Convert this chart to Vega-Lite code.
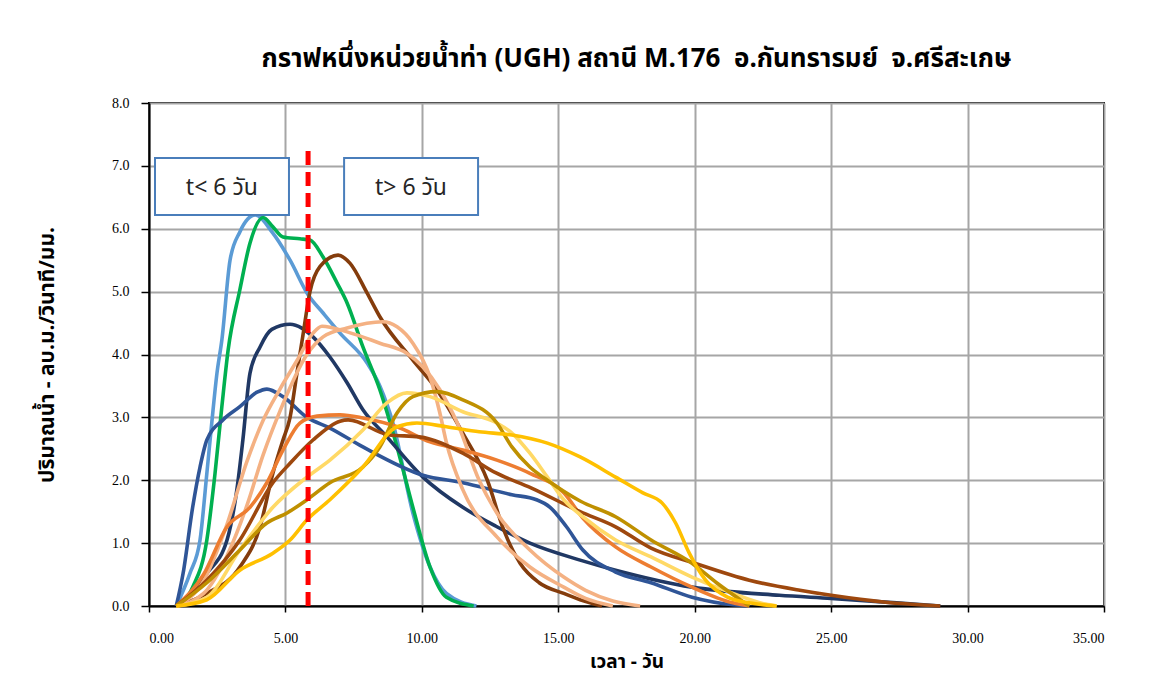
{
  "$schema": "https://vega.github.io/schema/vega-lite/v6.json",
  "width": 955,
  "height": 503,
  "autosize": "none",
  "padding": {"left": 149, "top": 103, "right": 48, "bottom": 84},
  "background": "white",
  "title": {
    "text": "กราฟหนึ่งหน่วยน้ำท่า (UGH) สถานี M.176 \u00a0อ.กันทรารมย์ \u00a0จ.ศรีสะเกษ",
    "font": "Tahoma, Noto Sans Thai, Loma, sans-serif",
    "fontSize": 26,
    "fontWeight": "bold",
    "color": "black",
    "anchor": "middle",
    "dx": 10,
    "offset": 24
  },
  "datasets": {
    "curves": [
      {"s": "A", "x": 1, "y": 0}, {"s": "A", "x": 1.5, "y": 0.52}, {"s": "A", "x": 1.87, "y": 1.05}, {"s": "A", "x": 2.12, "y": 2.11}, {"s": "A", "x": 2.3, "y": 2.91}, {"s": "A", "x": 2.49, "y": 3.7}, {"s": "A", "x": 2.67, "y": 4.23}, {"s": "A", "x": 2.97, "y": 5.5}, {"s": "A", "x": 3.33, "y": 5.95}, {"s": "A", "x": 3.9, "y": 6.22}, {"s": "A", "x": 4.54, "y": 5.93}, {"s": "A", "x": 5.17, "y": 5.5}, {"s": "A", "x": 5.83, "y": 4.95}, {"s": "A", "x": 6.38, "y": 4.66}, {"s": "A", "x": 7.0, "y": 4.34}, {"s": "A", "x": 8.0, "y": 3.86}, {"s": "A", "x": 8.46, "y": 3.5}, {"s": "A", "x": 8.94, "y": 2.91}, {"s": "A", "x": 9.67, "y": 1.48}, {"s": "A", "x": 10.3, "y": 0.62}, {"s": "A", "x": 10.9, "y": 0.2}, {"s": "A", "x": 12, "y": 0},
      {"s": "B", "x": 1, "y": 0}, {"s": "B", "x": 1.6, "y": 0.3}, {"s": "B", "x": 2.12, "y": 1.05}, {"s": "B", "x": 2.42, "y": 2.11}, {"s": "B", "x": 2.67, "y": 3.17}, {"s": "B", "x": 2.9, "y": 4.07}, {"s": "B", "x": 3.33, "y": 5.03}, {"s": "B", "x": 3.7, "y": 5.77}, {"s": "B", "x": 4.18, "y": 6.18}, {"s": "B", "x": 4.54, "y": 6.03}, {"s": "B", "x": 4.91, "y": 5.87}, {"s": "B", "x": 5.53, "y": 5.84}, {"s": "B", "x": 5.9, "y": 5.82}, {"s": "B", "x": 6.38, "y": 5.55}, {"s": "B", "x": 6.89, "y": 5.14}, {"s": "B", "x": 7.26, "y": 4.82}, {"s": "B", "x": 7.84, "y": 4.12}, {"s": "B", "x": 8.46, "y": 3.44}, {"s": "B", "x": 9.09, "y": 2.53}, {"s": "B", "x": 9.67, "y": 1.57}, {"s": "B", "x": 10.3, "y": 0.62}, {"s": "B", "x": 10.9, "y": 0.14}, {"s": "B", "x": 11.9, "y": 0},
      {"s": "C", "x": 1, "y": 0}, {"s": "C", "x": 1.5, "y": 0.2}, {"s": "C", "x": 2.12, "y": 0.52}, {"s": "C", "x": 2.86, "y": 1.05}, {"s": "C", "x": 3.22, "y": 1.85}, {"s": "C", "x": 3.44, "y": 2.64}, {"s": "C", "x": 3.7, "y": 3.7}, {"s": "C", "x": 4.07, "y": 4.12}, {"s": "C", "x": 4.5, "y": 4.4}, {"s": "C", "x": 5.17, "y": 4.48}, {"s": "C", "x": 5.6, "y": 4.42}, {"s": "C", "x": 6.01, "y": 4.28}, {"s": "C", "x": 6.63, "y": 3.96}, {"s": "C", "x": 7.26, "y": 3.55}, {"s": "C", "x": 7.84, "y": 3.12}, {"s": "C", "x": 8.72, "y": 2.69}, {"s": "C", "x": 10.04, "y": 2.05}, {"s": "C", "x": 11.5, "y": 1.57}, {"s": "C", "x": 12.75, "y": 1.26}, {"s": "C", "x": 13.96, "y": 1.0}, {"s": "C", "x": 15.8, "y": 0.73}, {"s": "C", "x": 17.1, "y": 0.57}, {"s": "C", "x": 19.9, "y": 0.3}, {"s": "C", "x": 23.1, "y": 0.17}, {"s": "C", "x": 25, "y": 0.12}, {"s": "C", "x": 27.4, "y": 0.05}, {"s": "C", "x": 29, "y": 0},
      {"s": "D", "x": 1, "y": 0}, {"s": "D", "x": 1.25, "y": 0.52}, {"s": "D", "x": 1.6, "y": 1.57}, {"s": "D", "x": 1.87, "y": 2.21}, {"s": "D", "x": 2.12, "y": 2.64}, {"s": "D", "x": 2.71, "y": 2.96}, {"s": "D", "x": 3.33, "y": 3.17}, {"s": "D", "x": 3.96, "y": 3.4}, {"s": "D", "x": 4.32, "y": 3.45}, {"s": "D", "x": 4.91, "y": 3.33}, {"s": "D", "x": 5.79, "y": 3.0}, {"s": "D", "x": 6.63, "y": 2.83}, {"s": "D", "x": 7.84, "y": 2.53}, {"s": "D", "x": 10.04, "y": 2.08}, {"s": "D", "x": 11.5, "y": 1.96}, {"s": "D", "x": 13.3, "y": 1.77}, {"s": "D", "x": 14.2, "y": 1.69}, {"s": "D", "x": 14.7, "y": 1.57}, {"s": "D", "x": 15.3, "y": 1.26}, {"s": "D", "x": 15.9, "y": 0.89}, {"s": "D", "x": 17.1, "y": 0.54}, {"s": "D", "x": 18.4, "y": 0.37}, {"s": "D", "x": 19.9, "y": 0.14}, {"s": "D", "x": 21.4, "y": 0.02}, {"s": "D", "x": 22, "y": 0},
      {"s": "E", "x": 1, "y": 0}, {"s": "E", "x": 2.12, "y": 0.2}, {"s": "E", "x": 3.33, "y": 0.62}, {"s": "E", "x": 4.07, "y": 1.26}, {"s": "E", "x": 4.54, "y": 2.11}, {"s": "E", "x": 4.91, "y": 2.64}, {"s": "E", "x": 5.17, "y": 3.0}, {"s": "E", "x": 5.42, "y": 3.7}, {"s": "E", "x": 5.64, "y": 4.3}, {"s": "E", "x": 5.9, "y": 5.0}, {"s": "E", "x": 6.27, "y": 5.4}, {"s": "E", "x": 6.93, "y": 5.58}, {"s": "E", "x": 7.37, "y": 5.45}, {"s": "E", "x": 7.99, "y": 4.98}, {"s": "E", "x": 8.46, "y": 4.6}, {"s": "E", "x": 9.67, "y": 3.91}, {"s": "E", "x": 10.55, "y": 3.44}, {"s": "E", "x": 11.5, "y": 2.75}, {"s": "E", "x": 12.4, "y": 2.0}, {"s": "E", "x": 13.0, "y": 1.21}, {"s": "E", "x": 13.6, "y": 0.68}, {"s": "E", "x": 14.3, "y": 0.37}, {"s": "E", "x": 15.2, "y": 0.2}, {"s": "E", "x": 15.8, "y": 0.1}, {"s": "E", "x": 16.6, "y": 0},
      {"s": "F", "x": 1, "y": 0}, {"s": "F", "x": 2.0, "y": 0.4}, {"s": "F", "x": 2.86, "y": 1.3}, {"s": "F", "x": 3.59, "y": 2.3}, {"s": "F", "x": 4.18, "y": 2.95}, {"s": "F", "x": 4.8, "y": 3.45}, {"s": "F", "x": 5.42, "y": 3.9}, {"s": "F", "x": 6.01, "y": 4.34}, {"s": "F", "x": 6.34, "y": 4.45}, {"s": "F", "x": 7.26, "y": 4.36}, {"s": "F", "x": 8.46, "y": 4.18}, {"s": "F", "x": 9.45, "y": 4.02}, {"s": "F", "x": 10.04, "y": 3.8}, {"s": "F", "x": 10.66, "y": 3.44}, {"s": "F", "x": 11.3, "y": 2.91}, {"s": "F", "x": 12.1, "y": 2.0}, {"s": "F", "x": 12.75, "y": 1.48}, {"s": "F", "x": 13.96, "y": 0.89}, {"s": "F", "x": 15.2, "y": 0.46}, {"s": "F", "x": 16, "y": 0.25}, {"s": "F", "x": 17, "y": 0.08}, {"s": "F", "x": 18, "y": 0},
      {"s": "G", "x": 1, "y": 0}, {"s": "G", "x": 2.0, "y": 0.2}, {"s": "G", "x": 2.86, "y": 0.8}, {"s": "G", "x": 3.59, "y": 1.6}, {"s": "G", "x": 4.18, "y": 2.4}, {"s": "G", "x": 4.8, "y": 3.1}, {"s": "G", "x": 5.79, "y": 4.0}, {"s": "G", "x": 6.38, "y": 4.28}, {"s": "G", "x": 7.26, "y": 4.42}, {"s": "G", "x": 8.57, "y": 4.52}, {"s": "G", "x": 9.09, "y": 4.44}, {"s": "G", "x": 9.67, "y": 4.18}, {"s": "G", "x": 10.3, "y": 3.64}, {"s": "G", "x": 10.66, "y": 3.07}, {"s": "G", "x": 10.9, "y": 2.6}, {"s": "G", "x": 11.5, "y": 1.85}, {"s": "G", "x": 12.75, "y": 1.1}, {"s": "G", "x": 13.96, "y": 0.62}, {"s": "G", "x": 15.2, "y": 0.3}, {"s": "G", "x": 16, "y": 0.12}, {"s": "G", "x": 17, "y": 0},
      {"s": "H", "x": 1, "y": 0}, {"s": "H", "x": 2.0, "y": 0.5}, {"s": "H", "x": 2.86, "y": 1.26}, {"s": "H", "x": 3.7, "y": 1.57}, {"s": "H", "x": 4.32, "y": 1.96}, {"s": "H", "x": 4.91, "y": 2.48}, {"s": "H", "x": 5.53, "y": 2.91}, {"s": "H", "x": 6.16, "y": 3.02}, {"s": "H", "x": 7.0, "y": 3.04}, {"s": "H", "x": 7.84, "y": 2.99}, {"s": "H", "x": 9.09, "y": 2.85}, {"s": "H", "x": 10.3, "y": 2.61}, {"s": "H", "x": 11.5, "y": 2.48}, {"s": "H", "x": 12.75, "y": 2.32}, {"s": "H", "x": 13.96, "y": 2.11}, {"s": "H", "x": 15.2, "y": 1.8}, {"s": "H", "x": 15.9, "y": 1.4}, {"s": "H", "x": 17.1, "y": 0.94}, {"s": "H", "x": 18.4, "y": 0.62}, {"s": "H", "x": 19.9, "y": 0.3}, {"s": "H", "x": 21.4, "y": 0.05}, {"s": "H", "x": 22, "y": 0},
      {"s": "I", "x": 1, "y": 0}, {"s": "I", "x": 2.12, "y": 0.41}, {"s": "I", "x": 3.33, "y": 1.05}, {"s": "I", "x": 4.54, "y": 1.96}, {"s": "I", "x": 5.17, "y": 2.27}, {"s": "I", "x": 6.01, "y": 2.64}, {"s": "I", "x": 7.0, "y": 2.94}, {"s": "I", "x": 7.3, "y": 2.96}, {"s": "I", "x": 8.8, "y": 2.72}, {"s": "I", "x": 9.9, "y": 2.69}, {"s": "I", "x": 11.5, "y": 2.43}, {"s": "I", "x": 12.7, "y": 2.12}, {"s": "I", "x": 14, "y": 1.88}, {"s": "I", "x": 15.8, "y": 1.5}, {"s": "I", "x": 17.1, "y": 1.26}, {"s": "I", "x": 18.4, "y": 0.92}, {"s": "I", "x": 20, "y": 0.68}, {"s": "I", "x": 22, "y": 0.41}, {"s": "I", "x": 23.85, "y": 0.25}, {"s": "I", "x": 25, "y": 0.17}, {"s": "I", "x": 27, "y": 0.06}, {"s": "I", "x": 29, "y": 0},
      {"s": "J", "x": 1, "y": 0}, {"s": "J", "x": 2.12, "y": 0.14}, {"s": "J", "x": 3.33, "y": 0.89}, {"s": "J", "x": 4.54, "y": 1.57}, {"s": "J", "x": 5.79, "y": 2.05}, {"s": "J", "x": 6.63, "y": 2.32}, {"s": "J", "x": 7.84, "y": 2.8}, {"s": "J", "x": 8.72, "y": 3.23}, {"s": "J", "x": 9.45, "y": 3.39}, {"s": "J", "x": 10.3, "y": 3.33}, {"s": "J", "x": 11.5, "y": 3.09}, {"s": "J", "x": 12.75, "y": 2.91}, {"s": "J", "x": 13.3, "y": 2.75}, {"s": "J", "x": 13.96, "y": 2.43}, {"s": "J", "x": 14.6, "y": 2.05}, {"s": "J", "x": 15.2, "y": 1.69}, {"s": "J", "x": 15.9, "y": 1.42}, {"s": "J", "x": 17.1, "y": 1.05}, {"s": "J", "x": 18.4, "y": 0.78}, {"s": "J", "x": 19.9, "y": 0.46}, {"s": "J", "x": 21.4, "y": 0.2}, {"s": "J", "x": 22.6, "y": 0.03}, {"s": "J", "x": 23, "y": 0},
      {"s": "K", "x": 1, "y": 0}, {"s": "K", "x": 2.12, "y": 0.37}, {"s": "K", "x": 3.33, "y": 0.89}, {"s": "K", "x": 4.32, "y": 1.32}, {"s": "K", "x": 5.06, "y": 1.48}, {"s": "K", "x": 5.79, "y": 1.69}, {"s": "K", "x": 6.63, "y": 1.96}, {"s": "K", "x": 7.84, "y": 2.21}, {"s": "K", "x": 8.46, "y": 2.53}, {"s": "K", "x": 9.09, "y": 3.07}, {"s": "K", "x": 9.67, "y": 3.33}, {"s": "K", "x": 10.55, "y": 3.41}, {"s": "K", "x": 11.5, "y": 3.28}, {"s": "K", "x": 12.75, "y": 2.91}, {"s": "K", "x": 13.3, "y": 2.53}, {"s": "K", "x": 13.96, "y": 2.21}, {"s": "K", "x": 14.6, "y": 2.0}, {"s": "K", "x": 15.8, "y": 1.67}, {"s": "K", "x": 17.1, "y": 1.42}, {"s": "K", "x": 18.4, "y": 1.05}, {"s": "K", "x": 19.9, "y": 0.68}, {"s": "K", "x": 20.8, "y": 0.37}, {"s": "K", "x": 22, "y": 0},
      {"s": "L", "x": 1, "y": 0}, {"s": "L", "x": 2.12, "y": 0.1}, {"s": "L", "x": 3.33, "y": 0.57}, {"s": "L", "x": 4.54, "y": 0.84}, {"s": "L", "x": 5.17, "y": 1.05}, {"s": "L", "x": 5.79, "y": 1.37}, {"s": "L", "x": 6.63, "y": 1.69}, {"s": "L", "x": 7.84, "y": 2.21}, {"s": "L", "x": 9.09, "y": 2.85}, {"s": "L", "x": 9.82, "y": 2.91}, {"s": "L", "x": 10.9, "y": 2.85}, {"s": "L", "x": 12.1, "y": 2.77}, {"s": "L", "x": 13.3, "y": 2.72}, {"s": "L", "x": 14.6, "y": 2.59}, {"s": "L", "x": 15.8, "y": 2.37}, {"s": "L", "x": 17.1, "y": 2.05}, {"s": "L", "x": 18.1, "y": 1.8}, {"s": "L", "x": 18.8, "y": 1.64}, {"s": "L", "x": 19.3, "y": 1.32}, {"s": "L", "x": 19.8, "y": 0.84}, {"s": "L", "x": 20.4, "y": 0.41}, {"s": "L", "x": 21.2, "y": 0.14}, {"s": "L", "x": 22, "y": 0.05}, {"s": "L", "x": 23, "y": 0}
    ],
    "boxes": [
      {"x": 0.22, "x2": 5.13, "y": 6.22, "y2": 7.125},
      {"x": 7.15, "x2": 12.06, "y": 6.22, "y2": 7.125}
    ],
    "labels": [
      {"x": 2.67, "y": 6.65, "label": "t< 6 วัน"},
      {"x": 9.6, "y": 6.65, "label": "t> 6 วัน"}
    ],
    "divider": [
      {"x": 5.83, "y": 0, "y2": 7.33}
    ]
  },
  "layer": [
    {
      "data": {"name": "curves"},
      "mark": {"type": "line", "interpolate": "monotone", "strokeWidth": 3.6},
      "encoding": {
        "x": {
          "field": "x", "type": "quantitative",
          "scale": {"domain": [0, 35], "nice": false, "zero": false},
          "axis": {
            "values": [0, 5, 10, 15, 20, 25, 30, 35],
            "format": ".2f",
            "title": "เวลา - วัน",
            "titleFont": "Tahoma, Noto Sans Thai, Loma, sans-serif",
            "titleFontSize": 19,
            "titleFontWeight": "bold",
            "titleColor": "black",
            "titlePadding": 7,
            "labelFont": "Liberation Serif",
            "labelFontSize": 14,
            "labelColor": "black",
            "labelPadding": 19,
            "tickSize": 6,
            "tickColor": "black",
            "tickWidth": 1.5,
            "domainColor": "black",
            "domainWidth": 2,
            "grid": true,
            "gridColor": "#A6A6A6",
            "gridWidth": 2
          }
        },
        "y": {
          "field": "y", "type": "quantitative",
          "scale": {"domain": [0, 8], "nice": false},
          "axis": {
            "values": [0, 1, 2, 3, 4, 5, 6, 7, 8],
            "format": ".1f",
            "title": "ปริมาณน้ำ - ลบ.ม./วินาที/มม.",
            "titleFont": "Tahoma, Noto Sans Thai, Loma, sans-serif",
            "titleFontSize": 21,
            "titleFontWeight": "bold",
            "titleColor": "black",
            "titlePadding": 54,
            "labelFont": "Liberation Serif",
            "labelFontSize": 14,
            "labelColor": "black",
            "labelPadding": 12,
            "tickSize": 8,
            "tickColor": "black",
            "tickWidth": 1.5,
            "domainColor": "black",
            "domainWidth": 2,
            "grid": true,
            "gridColor": "#A6A6A6",
            "gridWidth": 2
          }
        },
        "color": {
          "field": "s", "type": "nominal",
          "scale": {
            "domain": ["A", "B", "C", "D", "E", "F", "G", "H", "I", "J", "K", "L"],
            "range": ["#5B9BD5", "#00B050", "#203864", "#2F5597", "#843C0C", "#F4B183", "#F4B183", "#ED7D31", "#9E480E", "#FFD966", "#BF9000", "#FFC000"]
          },
          "legend": null
        }
      }
    },
    {
      "data": {"name": "boxes"},
      "mark": {"type": "rect", "fill": "white", "stroke": "#4A7EBB", "strokeWidth": 2},
      "encoding": {
        "x": {"field": "x", "type": "quantitative"},
        "x2": {"field": "x2"},
        "y": {"field": "y", "type": "quantitative"},
        "y2": {"field": "y2"}
      }
    },
    {
      "data": {"name": "labels"},
      "mark": {"type": "text", "font": "Tahoma, Noto Sans Thai, Loma, sans-serif", "fontSize": 23, "color": "#262626", "align": "center", "baseline": "middle"},
      "encoding": {
        "x": {"field": "x", "type": "quantitative"},
        "y": {"field": "y", "type": "quantitative"},
        "text": {"field": "label"}
      }
    },
    {
      "data": {"name": "divider"},
      "mark": {"type": "rule", "color": "#FF0000", "strokeWidth": 5, "strokeDash": [14, 7]},
      "encoding": {
        "x": {"field": "x", "type": "quantitative"},
        "y": {"field": "y", "type": "quantitative"},
        "y2": {"field": "y2"}
      }
    }
  ],
  "config": {
    "view": {"stroke": "black", "strokeWidth": 2}
  }
}
